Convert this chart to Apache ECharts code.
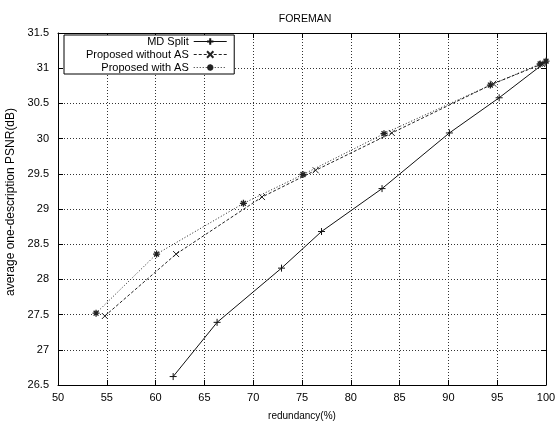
<!DOCTYPE html>
<html><head><meta charset="utf-8">
<script src="https://cdn.jsdelivr.net/npm/echarts@6/dist/echarts.min.js"></script>
<style>html,body{margin:0;padding:0;background:#fff}#c{width:555px;height:421px}</style>
</head><body><div id="c"></div>
<script>
const titleText = 'FOREMAN';
const xName = 'redundancy(%)';
const yName = 'average one-description PSNR(dB)';
const seriesNames = ['MD Split', 'Proposed without AS', 'Proposed with AS'];
const mdSplitX = [61.8, 66.3, 72.9, 77.0, 83.2, 90.1, 95.2, 99.9];
const mdSplitY = [26.62, 27.39, 28.16, 28.68, 29.29, 30.08, 30.58, 31.08];
const noAsX = [54.8, 62.1, 70.9, 76.4, 84.2, 94.6, 99.6];
const noAsY = [27.48, 28.36, 29.17, 29.55, 30.08, 30.78, 31.06];
const withAsX = [53.9, 60.1, 69.0, 75.1, 83.4, 94.3, 99.4, 100];
const withAsY = [27.52, 28.36, 29.08, 29.49, 30.07, 30.76, 31.06, 31.1];
const xTicks = [50, 55, 60, 65, 70, 75, 80, 85, 90, 95, 100];
const yTicks = [26.5, 27, 27.5, 28, 28.5, 29, 29.5, 30, 30.5, 31, 31.5];

const zip = (xs, ys) => xs.map((x, i) => [x, ys[i]]);
const font = 'Liberation Sans, Arial, sans-serif';
const plus = 'path://M5,0L5,10M0,5L10,5';
const cross = 'path://M1,1L9,9M9,1L1,9';
const star = 'path://M5,0L5,10M0,5L10,5M1.5,1.5L8.5,8.5M8.5,1.5L1.5,8.5';

const axisCommon = {
  axisLine: {show: true, lineStyle: {color: '#000', width: 1}},
  axisTick: {show: true, inside: true, length: 5, lineStyle: {color: '#000'}},
};
const chart = echarts.init(document.getElementById('c'));
chart.setOption({
  backgroundColor: '#fff',
  animation: false,
  title: {text: titleText, left: 300, top: 9, textAlign: 'center',
    textStyle: {fontFamily: font, fontSize: 10.5, fontWeight: 'normal', color: '#000'}},
  grid: {left: 58, right: 9, top: 33, bottom: 36, show: false, containLabel: false, outerBoundsMode: 'none'},
  legend: {
    orient: 'vertical', left: 64, top: 35, align: 'right',
    backgroundColor: '#fff', borderColor: '#000', borderWidth: 1,
    padding: [1, 7, 1, 22], itemGap: 2, itemWidth: 33, itemHeight: 8,
    lineStyle: {width: 1},
    textStyle: {fontFamily: font, fontSize: 11, color: '#000'},
    data: seriesNames
  },
  xAxis: [
    Object.assign({type: 'value', min: 50, max: 100, interval: 5,
      name: xName, nameLocation: 'middle', nameGap: 26,
      nameTextStyle: {fontFamily: font, fontSize: 10, color: '#000'},
      axisLabel: {fontFamily: font, fontSize: 11, color: '#000', margin: 7},
      splitLine: {show: true, lineStyle: {color: '#333', type: [1, 2], width: 1}}}, axisCommon),
    Object.assign({type: 'value', min: 50, max: 100, interval: 5, position: 'top',
      axisLabel: {show: false}, splitLine: {show: false}}, axisCommon)
  ],
  yAxis: [
    Object.assign({type: 'value', min: 26.5, max: 31.5, interval: 0.5,
      name: yName, nameLocation: 'middle', nameGap: 37,
      nameTextStyle: {fontFamily: font, fontSize: 12, color: '#000', padding: [0, 0, 0, 14]},
      axisLabel: {fontFamily: font, fontSize: 11, color: '#000', margin: 9,
        formatter: v => String(v)},
      splitLine: {show: true, lineStyle: {color: '#333', type: [1, 2], width: 1}}}, axisCommon),
    Object.assign({type: 'value', min: 26.5, max: 31.5, interval: 0.5, position: 'right',
      axisLabel: {show: false}, splitLine: {show: false}}, axisCommon)
  ],
  series: [
    {name: seriesNames[0], type: 'line', data: zip(mdSplitX, mdSplitY),
      symbol: plus, symbolSize: 7,
      lineStyle: {color: '#111', width: 1, type: 'solid'},
      itemStyle: {color: '#111', borderColor: '#111', borderWidth: 1}},
    {name: seriesNames[1], type: 'line', data: zip(noAsX, noAsY),
      symbol: cross, symbolSize: 6,
      lineStyle: {color: '#222', width: 1, type: [3, 2]},
      itemStyle: {color: '#222', borderColor: '#222', borderWidth: 1}},
    {name: seriesNames[2], type: 'line', data: zip(withAsX, withAsY),
      symbol: star, symbolSize: 7,
      lineStyle: {color: '#222', width: 1, type: [1, 2]},
      itemStyle: {color: '#222', borderColor: '#222', borderWidth: 1.3}}
  ]
});
</script></body></html>
